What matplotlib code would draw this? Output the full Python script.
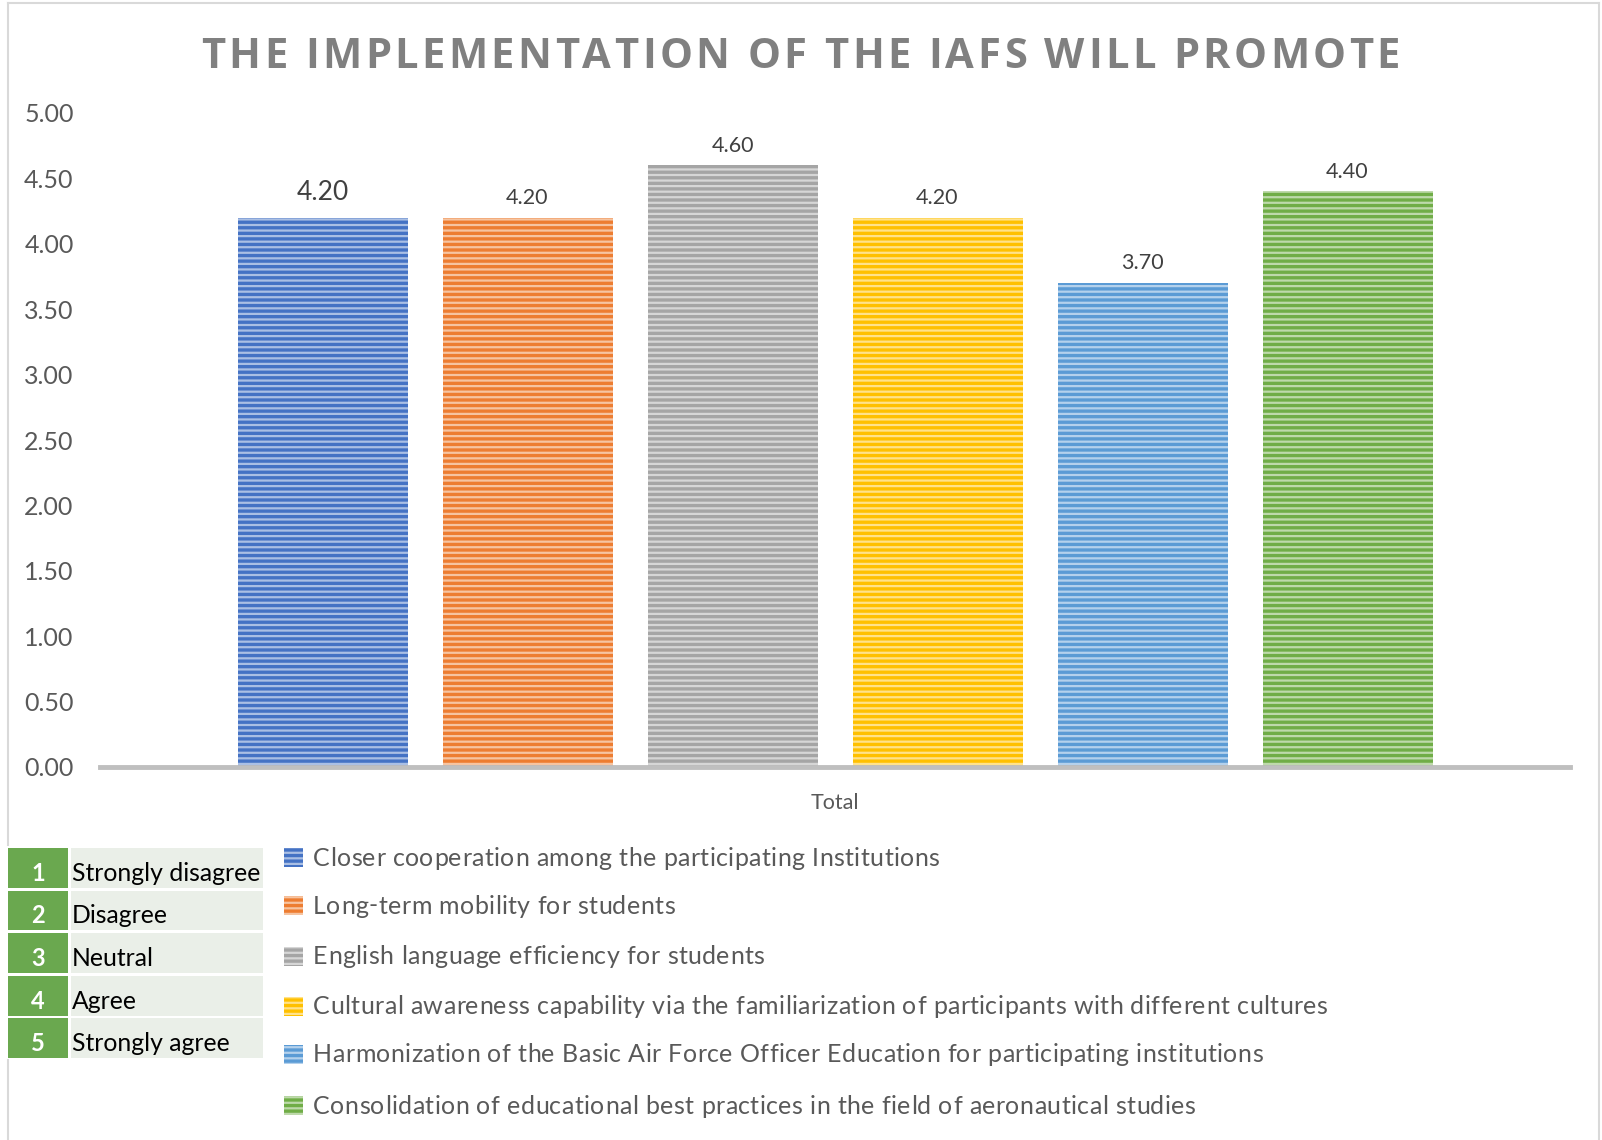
import matplotlib
matplotlib.use("Agg")
import matplotlib.pyplot as plt
from matplotlib.patches import Rectangle
from matplotlib.lines import Line2D
import numpy as np

W, H = 1602, 1140
DPI = 100

# ---------------- data ----------------
title = "THE IMPLEMENTATION OF THE IAFS WILL PROMOTE"
category = "Total"
series_labels = [
    "Closer cooperation among the participating Institutions",
    "Long-term mobility for students",
    "English language efficiency for students",
    "Cultural awareness capability via the familiarization of participants with different cultures",
    "Harmonization of the Basic Air Force Officer Education for participating institutions",
    "Consolidation of educational best practices in the field of aeronautical studies",
]
values = [4.20, 4.20, 4.60, 4.20, 3.70, 4.40]
colors = ["#4472C4", "#ED7D31", "#A5A5A5", "#FFC000", "#5B9BD5", "#70AD47"]
yticks = [0.0, 0.5, 1.0, 1.5, 2.0, 2.5, 3.0, 3.5, 4.0, 4.5, 5.0]
scale_numbers = ["1", "2", "3", "4", "5"]
scale_labels = ["Strongly disagree", "Disagree", "Neutral", "Agree", "Strongly agree"]

plt.rcParams["font.family"] = ["Lato", "DejaVu Sans"]
plt.rcParams["hatch.linewidth"] = 1.6

fig = plt.figure(figsize=(W / DPI, H / DPI), dpi=DPI)
fig.patch.set_facecolor("white")
renderer = fig.canvas.get_renderer()


def fx(x):
    return x / W


def fy(y):
    return 1 - y / H


def spaced_text(x_left, y, s, spacing, **kw):
    """Draw text char by char (figure pixel coords) with extra letter spacing."""
    x = x_left
    for ch in s:
        t = fig.text(fx(x), fy(y), ch, ha="left", va="center", **kw)
        w = t.get_window_extent(renderer=renderer).width
        if ch == " ":
            tmp = fig.text(0, 0, "a a", **kw)
            tmp2 = fig.text(0, 0, "aa", **kw)
            w = (tmp.get_window_extent(renderer=renderer).width
                 - tmp2.get_window_extent(renderer=renderer).width)
            tmp.remove()
            tmp2.remove()
        x += w + spacing
    return x


# chart border
fig.add_artist(Line2D([fx(8), fx(8)], [fy(3), fy(845)], color="#D9D9D9", lw=1.5))
fig.add_artist(Line2D([fx(8), fx(8)], [fy(1060), fy(1140)], color="#D9D9D9", lw=1.5))
fig.add_artist(Line2D([fx(8), fx(1599)], [fy(3), fy(3)], color="#D9D9D9", lw=1.5))
fig.add_artist(Line2D([fx(1599), fx(1599)], [fy(3), fy(1140)], color="#D9D9D9", lw=1.5))

# axes
ax_l, ax_r, ax_t, ax_b = 100, 1570, 113, 767
ax = fig.add_axes([fx(ax_l), fy(ax_b), fx(ax_r - ax_l), (ax_b - ax_t) / H])
ax.set_xlim(-0.5, 0.5)
ax.set_ylim(0, 5)

n = len(values)
step = 205 / (ax_r - ax_l)
width = 170 / (ax_r - ax_l)
offsets = (np.arange(n) - (n - 1) / 2) * step
for i, (v, c) in enumerate(zip(values, colors)):
    ax.bar(offsets[i], v, width=width, color=c, linewidth=0, zorder=2)
    ax.bar(offsets[i], v, width=width, facecolor="none", edgecolor=(1, 1, 1, 0.55),
           hatch="---", linewidth=0, zorder=3)
    fs = 19 if i == 0 else 15.5
    ax.annotate(f"{v:.2f}", (offsets[i], v), xytext=(0, 9 if i == 0 else 7),
                textcoords="offset points", ha="center", va="bottom",
                fontsize=fs, color="#404040")

ax.set_yticks(yticks)
ax.set_yticklabels([f"{t:.2f}" for t in yticks], fontsize=18, color="#595959")
ax.set_xticks([0])
ax.set_xticklabels([category], fontsize=15.5, color="#595959")
ax.tick_params(axis="y", length=0, pad=19)
ax.tick_params(axis="x", length=0, pad=19)
for s in ["top", "right", "left"]:
    ax.spines[s].set_visible(False)
ax.spines["bottom"].set_color("#BFBFBF")
ax.spines["bottom"].set_linewidth(3.5)
ax.spines["bottom"].set_zorder(4)
ax.patch.set_alpha(0)

# title with letter spacing
spaced_text(201, 57, title, 3.4, fontsize=30, fontweight="bold", color="#808080",
            family=["Open Sans", "DejaVu Sans"])

# legend (manual)
leg_y = [858, 906, 957, 1007, 1055, 1106]
for lab, c, y in zip(series_labels, colors, leg_y):
    r = Rectangle((fx(284), fy(y + 9)), fx(19), 19 / H, transform=fig.transFigure,
                  facecolor=c, linewidth=0)
    fig.add_artist(r)
    r2 = Rectangle((fx(284), fy(y + 9)), fx(19), 19 / H, transform=fig.transFigure,
                   facecolor="none", edgecolor=(1, 1, 1, 0.55), hatch="---", linewidth=0)
    fig.add_artist(r2)
    spaced_text(313, y, lab, 0.45, fontsize=18, color="#595959")

# scale table
rows = [(848, 888), (891, 930), (933, 973), (976, 1016), (1018, 1058)]
for (y0, y1), num, lab in zip(rows, scale_numbers, scale_labels):
    fig.add_artist(Rectangle((fx(8), fy(y1)), fx(60), (y1 - y0) / H,
                             transform=fig.transFigure, facecolor="#6AA84F", linewidth=0))
    fig.add_artist(Rectangle((fx(71), fy(y1)), fx(192), (y1 - y0) / H,
                             transform=fig.transFigure, facecolor="#EAEFE8", linewidth=0))
    fig.text(fx(38), fy(y1 - 3), num, ha="center", va="bottom", fontsize=17,
             fontweight="bold", color="white")
    fig.text(fx(72), fy(y1 - 3), lab, ha="left", va="bottom", fontsize=17.8, color="black")

fig.savefig("out.png", dpi=DPI, facecolor="white")
